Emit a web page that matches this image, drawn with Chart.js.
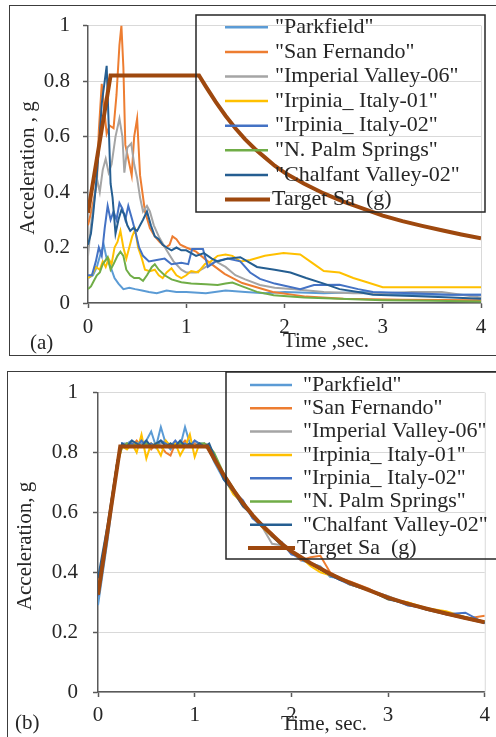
<!DOCTYPE html>
<html lang="en">
<head>
    <meta charset="utf-8">
    <title>Response spectra</title>
    <style>
        body { margin: 0; background: #fff; }
        #wrap { position: relative; width: 496px; height: 737px; overflow: hidden; }
        .frame { position: absolute; box-sizing: border-box; border: 1.5px solid #3c3c3c; }
        #frameA { left: 9px; top: 5px; width: 520px; height: 351px; }
        #frameB { left: 7px; top: 371px; width: 520px; height: 400px; }
        canvas { position: absolute; left: 0; }
    </style>
</head>
<body>
<div id="wrap">
    <div class="frame" id="frameA"></div>
    <div class="frame" id="frameB"></div>
    <canvas id="chartA" width="496" height="362" style="top:0"></canvas>
    <canvas id="chartB" width="496" height="372" style="top:365px"></canvas>
</div>
<script src="https://cdn.jsdelivr.net/npm/chart.js"></script>
<script>
    // record names and colours (Excel palette)
    const recordNames = ['"Parkfield"', '"San Fernando"', '"Imperial Valley-06"', '"Irpinia_ Italy-01"',
        '"Irpinia_ Italy-02"', '"N. Palm Springs"', '"Chalfant Valley-02"'];
    const targetName = 'Target Sa  (g)';
    const recordColors = ['#5B9BD5', '#ED7D31', '#A5A5A5', '#FFC000', '#4472C4', '#70AD47', '#255E91'];
    const targetColor = '#9E480E';

    // target spectrum (same in both panels)
    const targetT = [0, 0.23, 1.13, 1.2, 1.3, 1.4, 1.5, 1.6, 1.7, 1.8, 1.9, 2.0, 2.2, 2.4, 2.6, 2.8, 3.0, 3.2, 3.4, 3.6, 3.8, 4.0];
    const targetSa = [0.325, 0.82, 0.82, 0.78, 0.725, 0.675, 0.63, 0.59, 0.555, 0.525, 0.495, 0.47, 0.43, 0.395, 0.365, 0.34, 0.315, 0.295, 0.278, 0.262, 0.247, 0.233];

    // (a) unscaled records, period (s) / Sa (g)
    const parkA_t = [0, 0.05, 0.09, 0.13, 0.16, 0.19, 0.23, 0.27, 0.31, 0.36, 0.42, 0.48, 0.55, 0.62, 0.7, 0.8, 0.9, 1.0, 1.2, 1.4, 1.6, 1.8, 2.0, 2.4, 2.8, 3.2, 3.6, 4.0];
    const parkA_g = [0.09, 0.10, 0.13, 0.18, 0.21, 0.16, 0.13, 0.09, 0.07, 0.05, 0.055, 0.05, 0.045, 0.04, 0.035, 0.045, 0.04, 0.04, 0.035, 0.045, 0.04, 0.035, 0.04, 0.035, 0.04, 0.03, 0.03, 0.03];
    const sanFerA_t = [0, 0.04, 0.09, 0.11, 0.14, 0.17, 0.19, 0.22, 0.26, 0.29, 0.32, 0.34, 0.36, 0.38, 0.41, 0.445, 0.47, 0.5, 0.53, 0.58, 0.63, 0.68, 0.73, 0.79, 0.83, 0.86, 0.9, 0.94, 1.0, 1.1, 1.22, 1.39, 1.57, 1.88, 2.22, 2.6, 3.2, 4.0];
    const sanFerA_g = [0.28, 0.34, 0.43, 0.62, 0.79, 0.68, 0.61, 0.64, 0.63, 0.75, 0.93, 1.0, 0.85, 0.57, 0.52, 0.46, 0.6, 0.665, 0.46, 0.33, 0.27, 0.24, 0.22, 0.2, 0.21, 0.24, 0.23, 0.21, 0.2, 0.185, 0.15, 0.105, 0.072, 0.04, 0.023, 0.015, 0.012, 0.01];
    const impA_t = [0, 0.03, 0.06, 0.09, 0.12, 0.15, 0.18, 0.21, 0.24, 0.28, 0.32, 0.35, 0.37, 0.40, 0.44, 0.47, 0.5, 0.53, 0.56, 0.6, 0.63, 0.67, 0.72, 0.8, 0.87, 0.95, 1.0, 1.1, 1.2, 1.3, 1.4, 1.5, 1.6, 1.75, 1.9, 2.1, 2.4, 2.7, 3.0, 3.3, 3.6, 3.8, 4.0];
    const impA_g = [0.17, 0.28, 0.36, 0.45, 0.40, 0.48, 0.52, 0.47, 0.5, 0.6, 0.665, 0.6, 0.47, 0.56, 0.575, 0.5, 0.45, 0.38, 0.33, 0.35, 0.33, 0.28, 0.24, 0.19, 0.15, 0.12, 0.11, 0.11, 0.13, 0.15, 0.13, 0.1, 0.085, 0.065, 0.055, 0.05, 0.04, 0.035, 0.035, 0.04, 0.04, 0.03, 0.02];
    const irp1A_t = [0, 0.04, 0.08, 0.12, 0.15, 0.18, 0.21, 0.24, 0.27, 0.3, 0.33, 0.36, 0.39, 0.42, 0.45, 0.48, 0.51, 0.54, 0.58, 0.63, 0.68, 0.72, 0.76, 0.8, 0.85, 0.9, 0.95, 1.0, 1.05, 1.12, 1.19, 1.25, 1.32, 1.4, 1.47, 1.55, 1.65, 1.8, 1.99, 2.16, 2.3, 2.4, 2.56, 2.7, 2.84, 3.0, 3.4, 4.0];
    const irp1A_g = [0.09, 0.1, 0.13, 0.12, 0.15, 0.13, 0.16, 0.14, 0.2, 0.22, 0.26, 0.2, 0.16, 0.2, 0.24, 0.265, 0.2, 0.17, 0.12, 0.115, 0.12, 0.1, 0.09, 0.11, 0.125, 0.1, 0.09, 0.1, 0.115, 0.11, 0.14, 0.15, 0.17, 0.175, 0.17, 0.15, 0.155, 0.17, 0.18, 0.175, 0.14, 0.115, 0.11, 0.09, 0.075, 0.057, 0.057, 0.057];
    const irp2A_t = [0, 0.04, 0.08, 0.11, 0.14, 0.17, 0.2, 0.23, 0.26, 0.29, 0.32, 0.35, 0.38, 0.41, 0.45, 0.48, 0.52, 0.56, 0.62, 0.7, 0.78, 0.85, 0.95, 1.02, 1.06, 1.17, 1.22, 1.3, 1.42, 1.55, 1.65, 1.75, 1.9, 2.16, 2.3, 2.56, 2.75, 2.9, 3.3, 3.7, 4.0];
    const irp2A_g = [0.1, 0.1, 0.15, 0.2, 0.17, 0.27, 0.35, 0.3, 0.33, 0.3, 0.36, 0.34, 0.3, 0.35, 0.3, 0.26, 0.2, 0.17, 0.15, 0.155, 0.16, 0.14, 0.145, 0.14, 0.195, 0.195, 0.13, 0.15, 0.16, 0.15, 0.11, 0.087, 0.07, 0.05, 0.065, 0.066, 0.05, 0.04, 0.035, 0.03, 0.03];
    const palmA_t = [0, 0.03, 0.06, 0.09, 0.12, 0.15, 0.17, 0.2, 0.23, 0.26, 0.3, 0.33, 0.36, 0.39, 0.43, 0.47, 0.52, 0.56, 0.6, 0.65, 0.68, 0.72, 0.78, 0.85, 0.95, 1.05, 1.2, 1.32, 1.4, 1.47, 1.57, 1.72, 1.89, 2.2, 2.56, 3.0, 3.5, 4.0];
    const palmA_g = [0.05, 0.06, 0.08, 0.1, 0.11, 0.14, 0.15, 0.165, 0.12, 0.14, 0.17, 0.185, 0.17, 0.12, 0.1, 0.09, 0.09, 0.08, 0.1, 0.13, 0.14, 0.12, 0.1, 0.085, 0.075, 0.07, 0.068, 0.065, 0.07, 0.074, 0.06, 0.04, 0.028, 0.02, 0.015, 0.01, 0.008, 0.005];
    const chalfA_t = [0, 0.03, 0.05, 0.08, 0.11, 0.14, 0.17, 0.19, 0.21, 0.23, 0.25, 0.28, 0.31, 0.34, 0.37, 0.4, 0.43, 0.46, 0.5, 0.53, 0.56, 0.6, 0.64, 0.68, 0.72, 0.76, 0.8, 0.85, 0.9, 0.95, 1.0, 1.05, 1.1, 1.18, 1.26, 1.32, 1.42, 1.55, 1.72, 1.9, 2.06, 2.22, 2.4, 2.56, 2.75, 2.9, 3.3, 3.7, 4.0];
    const chalfA_g = [0.21, 0.25, 0.31, 0.42, 0.55, 0.72, 0.8, 0.855, 0.65, 0.43, 0.38, 0.25, 0.3, 0.335, 0.32, 0.28, 0.26, 0.27, 0.26, 0.28, 0.3, 0.33, 0.28, 0.24, 0.23, 0.21, 0.2, 0.19, 0.2, 0.19, 0.19, 0.18, 0.17, 0.18, 0.16, 0.15, 0.16, 0.165, 0.13, 0.12, 0.11, 0.09, 0.07, 0.05, 0.04, 0.03, 0.025, 0.02, 0.015];

    // (b) matched records, shared periods
    const tB = [0, 0.1, 0.2, 0.25, 0.3, 0.35, 0.4, 0.45, 0.5, 0.55, 0.6, 0.65, 0.7, 0.75, 0.8, 0.85, 0.9, 0.95, 1.0, 1.05, 1.1, 1.15, 1.2,
        1.3, 1.4, 1.5, 1.6, 1.7, 1.8, 1.9, 2.0, 2.1, 2.2, 2.3, 2.4, 2.5, 2.6, 2.8, 3.0, 3.2, 3.4, 3.6, 3.8, 4.0];
    const parkB = [0.29, 0.51, 0.76, 0.83, 0.83, 0.84, 0.82, 0.83, 0.84, 0.87, 0.82, 0.885, 0.83, 0.81, 0.83, 0.82, 0.885, 0.83, 0.82, 0.83, 0.83, 0.81, 0.77,
        0.71, 0.67, 0.63, 0.58, 0.55, 0.52, 0.5, 0.465, 0.44, 0.43, 0.42, 0.385, 0.38, 0.36, 0.34, 0.32, 0.29, 0.28, 0.265, 0.25, 0.23];
    const sanFerB = [0.34, 0.55, 0.77, 0.82, 0.83, 0.82, 0.84, 0.82, 0.83, 0.81, 0.83, 0.82, 0.80, 0.79, 0.83, 0.82, 0.84, 0.82, 0.83, 0.82, 0.83, 0.82, 0.79,
        0.72, 0.67, 0.62, 0.59, 0.56, 0.53, 0.49, 0.47, 0.44, 0.45, 0.455, 0.40, 0.38, 0.37, 0.345, 0.31, 0.30, 0.275, 0.265, 0.245, 0.255];
    const impB = [0.33, 0.54, 0.76, 0.82, 0.83, 0.82, 0.83, 0.84, 0.82, 0.83, 0.82, 0.83, 0.84, 0.82, 0.83, 0.82, 0.83, 0.82, 0.84, 0.82, 0.83, 0.82, 0.78,
        0.72, 0.67, 0.62, 0.59, 0.55, 0.495, 0.49, 0.47, 0.45, 0.43, 0.41, 0.39, 0.38, 0.365, 0.34, 0.32, 0.295, 0.28, 0.26, 0.25, 0.235];
    const irp1B = [0.33, 0.55, 0.76, 0.82, 0.81, 0.83, 0.80, 0.86, 0.78, 0.83, 0.82, 0.79, 0.84, 0.82, 0.83, 0.79, 0.82, 0.86, 0.785, 0.83, 0.82, 0.81, 0.78,
        0.72, 0.66, 0.63, 0.59, 0.55, 0.52, 0.49, 0.47, 0.45, 0.42, 0.40, 0.39, 0.38, 0.36, 0.34, 0.31, 0.30, 0.28, 0.27, 0.25, 0.235];
    const irp2B = [0.32, 0.54, 0.77, 0.83, 0.82, 0.83, 0.82, 0.84, 0.82, 0.83, 0.82, 0.84, 0.83, 0.82, 0.84, 0.82, 0.83, 0.82, 0.84, 0.83, 0.82, 0.82, 0.79,
        0.72, 0.67, 0.64, 0.58, 0.56, 0.52, 0.5, 0.46, 0.45, 0.43, 0.41, 0.39, 0.375, 0.36, 0.34, 0.315, 0.29, 0.28, 0.26, 0.265, 0.23];
    const palmB = [0.33, 0.55, 0.77, 0.82, 0.83, 0.82, 0.83, 0.82, 0.83, 0.82, 0.83, 0.82, 0.82, 0.83, 0.82, 0.83, 0.82, 0.83, 0.82, 0.83, 0.83, 0.82, 0.8,
        0.73, 0.68, 0.63, 0.59, 0.555, 0.525, 0.495, 0.47, 0.45, 0.43, 0.41, 0.395, 0.38, 0.365, 0.34, 0.315, 0.295, 0.28, 0.262, 0.25, 0.235];
    const chalfB = [0.38, 0.56, 0.77, 0.83, 0.82, 0.84, 0.83, 0.82, 0.84, 0.82, 0.83, 0.84, 0.82, 0.83, 0.82, 0.84, 0.82, 0.83, 0.82, 0.83, 0.82, 0.83, 0.79,
        0.71, 0.67, 0.62, 0.59, 0.56, 0.52, 0.49, 0.47, 0.445, 0.43, 0.41, 0.39, 0.375, 0.365, 0.34, 0.31, 0.295, 0.275, 0.26, 0.245, 0.23];

    const SERIF = '"Liberation Serif", "Times New Roman", serif';
    const AXIS = '#595959';
    const GRID = '#d9d9d9';
    const TEXT = '#262626';
    Chart.defaults.font.family = SERIF;

    function pairs(ts, gs) {
        return ts.map((t, i) => ({ x: t, y: gs[i] }));
    }

    function makeDatasets(recordSeries) {
        // records first, target last; target drawn on top
        const sets = recordSeries.map((pts, i) => ({
            label: recordNames[i],
            data: pts,
            borderColor: recordColors[i],
            borderWidth: 2,
            order: 7 - i
        }));
        sets.push({
            label: targetName,
            data: pairs(targetT, targetSa),
            borderColor: targetColor,
            borderWidth: 4,
            order: 0
        });
        return sets;
    }

    // draws the in-plot legend, axis titles and the panel tag
    const panelDecor = {
        id: 'panelDecor',
        beforeDatasetsDraw(chart) {
            const a = chart.chartArea, ctx = chart.ctx;
            ctx.save();
            ctx.strokeStyle = GRID;
            ctx.lineWidth = 1;
            ctx.beginPath();
            ctx.moveTo(a.right + 0.5, a.top);
            ctx.lineTo(a.right + 0.5, a.bottom);
            ctx.stroke();
            ctx.restore();
        },
        afterDraw(chart, args, o) {
            const ctx = chart.ctx;
            const lg = o.legend;
            ctx.save();
            ctx.fillStyle = TEXT;
            ctx.textBaseline = 'middle';

            ctx.lineWidth = 1.5;
            ctx.strokeStyle = '#262626';
            ctx.strokeRect(lg.box[0], lg.box[1], lg.box[2], lg.box[3]);
            ctx.font = '22px ' + SERIF;
            const sets = chart.data.datasets;
            sets.forEach((ds, i) => {
                const y = lg.row0 + i * lg.rowGap;
                const last = i === sets.length - 1;
                const lx = last ? lg.targetLineX : lg.lineX;
                ctx.strokeStyle = ds.borderColor;
                ctx.lineWidth = last ? 4 : 2.5;
                ctx.beginPath();
                ctx.moveTo(lx[0], y);
                ctx.lineTo(lx[1], y);
                ctx.stroke();
                ctx.textAlign = 'left';
                ctx.fillText(ds.label, last ? lg.targetTextX : lg.textX, y);
            });

            ctx.font = '21px ' + SERIF;
            ctx.textAlign = 'center';
            ctx.fillText(o.xTitle.text, o.xTitle.x, o.xTitle.y);
            ctx.textAlign = 'left';
            ctx.fillText(o.tag.text, o.tag.x, o.tag.y);

            ctx.translate(o.yTitle.x, o.yTitle.y);
            ctx.rotate(-Math.PI / 2);
            ctx.textAlign = 'center';
            ctx.fillText(o.yTitle.text, 0, 0);
            ctx.restore();
        }
    };

    function buildChart(p, datasets) {
        return new Chart(document.getElementById(p.canvas), {
            type: 'line',
            data: { datasets: datasets },
            options: {
                responsive: false,
                animation: false,
                devicePixelRatio: 1,
                layout: { padding: { left: 0, top: p.area.top, right: 496 - p.area.right, bottom: 0 } },
                elements: {
                    point: { radius: 0 },
                    line: { tension: 0 }
                },
                plugins: {
                    legend: { display: false },
                    tooltip: { enabled: false },
                    panelDecor: p
                },
                scales: {
                    x: {
                        type: 'linear',
                        min: 0,
                        max: 4,
                        afterFit: (s) => { s.height = p.height - p.area.bottom; },
                        ticks: { stepSize: 1, padding: p.xPad, color: TEXT, maxRotation: 0, font: { size: 21 } },
                        grid: { drawOnChartArea: false, tickLength: 5, tickColor: AXIS, tickWidth: 1.5 },
                        border: { color: AXIS, width: 1.5 }
                    },
                    y: {
                        min: 0,
                        max: 1,
                        afterFit: (s) => { s.width = p.area.left; },
                        ticks: {
                            stepSize: 0.2, padding: p.yPad, color: TEXT, font: { size: 21 },
                            // Excel "General" format: 0, 0.2 ... 1
                            callback: (v) => String(Number(v.toFixed(1)))
                        },
                        grid: { color: GRID, tickLength: 5, tickColor: AXIS, tickWidth: 1.5 },
                        border: { color: AXIS, width: 1.5 }
                    }
                }
            },
            plugins: [panelDecor]
        });
    }

    const panelA = {
        canvas: 'chartA', height: 362,
        area: { left: 88, top: 16, right: 481, bottom: 303 },
        xPad: 7, yPad: 13,
        legend: { box: [196, 15, 289, 197], row0: 27.3, rowGap: 24.6, lineX: [225, 268], textX: 275, targetLineX: [225, 270], targetTextX: 272 },
        xTitle: { text: 'Time ,sec.', x: 326, y: 341 },
        yTitle: { text: 'Acceleration , g', x: 28, y: 168 },
        tag: { text: '(a)', x: 30, y: 343 }
    };
    const panelB = {
        canvas: 'chartB', height: 372,
        area: { left: 98, top: 17, right: 486, bottom: 327 },
        xPad: 6, yPad: 15,
        legend: { box: [226, 7, 290, 187], row0: 20, rowGap: 23.3, lineX: [250, 292], textX: 303, targetLineX: [248, 295], targetTextX: 297 },
        xTitle: { text: 'Time, sec.', x: 324, y: 359 },
        yTitle: { text: 'Acceleration, g', x: 25, y: 181 },
        tag: { text: '(b)', x: 15, y: 358 }
    };

    buildChart(panelA, makeDatasets([
        pairs(parkA_t, parkA_g), pairs(sanFerA_t, sanFerA_g), pairs(impA_t, impA_g), pairs(irp1A_t, irp1A_g),
        pairs(irp2A_t, irp2A_g), pairs(palmA_t, palmA_g), pairs(chalfA_t, chalfA_g)
    ]));
    buildChart(panelB, makeDatasets(
        [parkB, sanFerB, impB, irp1B, irp2B, palmB, chalfB].map(g => pairs(tB, g))
    ));
</script>
</body>
</html>
